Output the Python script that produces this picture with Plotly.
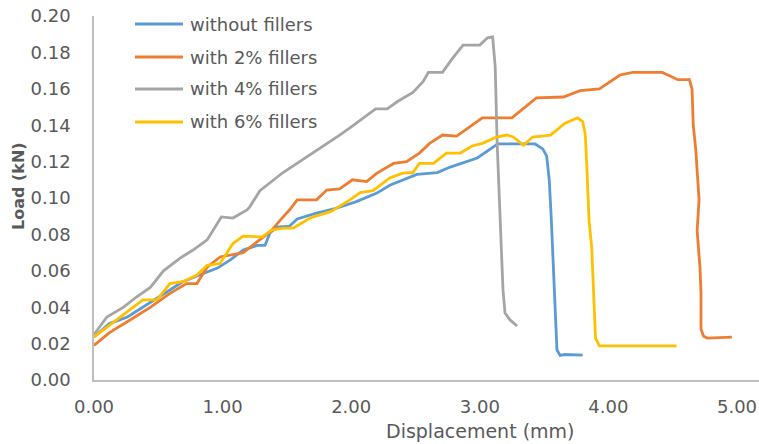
import plotly.graph_objects as go

# Displacement (mm) / Load (kN)
x_without = [0.00, 0.12, 0.26, 0.38, 0.54, 0.69, 0.82, 0.96, 1.06, 1.16, 1.27, 1.33, 1.37, 1.42, 1.52, 1.58,
             1.73, 1.89, 2.04, 2.20, 2.30, 2.40, 2.51, 2.67, 2.77, 2.98, 3.08, 3.14, 3.43, 3.49, 3.52, 3.54,
             3.555, 3.57, 3.59, 3.60, 3.625, 3.66, 3.80]
y_without = [0.0236, 0.031, 0.0346, 0.040, 0.0476, 0.054, 0.0577, 0.0615, 0.066, 0.0714, 0.074, 0.074, 0.081,
             0.084, 0.0845, 0.0885, 0.0917, 0.0945, 0.098, 0.1027, 0.107, 0.110, 0.113, 0.114, 0.117, 0.122,
             0.127, 0.1297, 0.1297, 0.127, 0.123, 0.110, 0.090, 0.062, 0.035, 0.0165, 0.0135, 0.014, 0.0137]

x_2pct = [0.00, 0.12, 0.28, 0.44, 0.59, 0.72, 0.80, 0.88, 0.98, 1.06, 1.16, 1.27, 1.37, 1.45, 1.52, 1.58, 1.73,
          1.81, 1.91, 2.01, 2.12, 2.20, 2.33, 2.43, 2.53, 2.61, 2.71, 2.82, 3.02, 3.25, 3.37, 3.44, 3.65, 3.78,
          3.93, 4.09, 4.19, 4.42, 4.54, 4.63, 4.65, 4.66, 4.68, 4.705, 4.69, 4.712, 4.72, 4.72, 4.74, 4.77, 4.96]
y_2pct = [0.019, 0.026, 0.033, 0.040, 0.0476, 0.053, 0.053, 0.062, 0.0676, 0.0687, 0.070, 0.076, 0.0813, 0.088,
          0.0934, 0.099, 0.099, 0.1044, 0.105, 0.110, 0.109, 0.1137, 0.119, 0.120, 0.1247, 0.130, 0.1346, 0.134,
          0.144, 0.144, 0.151, 0.155, 0.1555, 0.159, 0.160, 0.1676, 0.169, 0.169, 0.165, 0.165, 0.160, 0.140,
          0.126, 0.099, 0.082, 0.062, 0.048, 0.028, 0.024, 0.023, 0.0236]

x_4pct = [0.00, 0.10, 0.23, 0.33, 0.44, 0.54, 0.67, 0.77, 0.88, 0.94, 0.99, 1.08, 1.19, 1.21, 1.29, 1.47, 1.60,
          1.73, 1.89, 1.99, 2.12, 2.19, 2.28, 2.36, 2.48, 2.56, 2.60, 2.71, 2.78, 2.87, 3.00, 3.06, 3.10, 3.12,
          3.135, 3.157, 3.18, 3.196, 3.235, 3.29]
y_4pct = [0.025, 0.0346, 0.040, 0.0456, 0.051, 0.060, 0.067, 0.0714, 0.077, 0.0835, 0.0896, 0.089, 0.0934,
          0.095, 0.104, 0.114, 0.120, 0.126, 0.1336, 0.1385, 0.1456, 0.149, 0.149, 0.153, 0.158, 0.164, 0.169,
          0.169, 0.176, 0.184, 0.184, 0.188, 0.1885, 0.172, 0.130, 0.088, 0.050, 0.0368, 0.033, 0.0297]

x_6pct = [0.00, 0.12, 0.26, 0.38, 0.49, 0.59, 0.69, 0.80, 0.88, 0.98, 1.08, 1.16, 1.31, 1.38, 1.47, 1.55, 1.68,
          1.84, 1.99, 2.07, 2.17, 2.30, 2.40, 2.48, 2.53, 2.64, 2.74, 2.85, 2.94, 3.02, 3.13, 3.21, 3.26, 3.34,
          3.41, 3.55, 3.66, 3.76, 3.80, 3.82, 3.83, 3.85, 3.87, 3.89, 3.90, 3.93, 4.53]
y_6pct = [0.0236, 0.030, 0.0374, 0.044, 0.044, 0.053, 0.054, 0.0577, 0.063, 0.064, 0.075, 0.079, 0.0786, 0.0824,
          0.0835, 0.0835, 0.089, 0.0925, 0.099, 0.103, 0.104, 0.111, 0.1137, 0.114, 0.119, 0.119, 0.1247, 0.1247,
          0.1286, 0.130, 0.1335, 0.1346, 0.1335, 0.129, 0.1335, 0.1346, 0.141, 0.144, 0.142, 0.135, 0.121, 0.087,
          0.073, 0.044, 0.023, 0.0187, 0.0187]

series_names = ["without fillers", "with 2% fillers", "with 4% fillers", "with 6% fillers"]
series_x = [x_without, x_2pct, x_4pct, x_6pct]
series_y = [y_without, y_2pct, y_4pct, y_6pct]
colors = ["#5B9BD5", "#ED7D31", "#A5A5A5", "#FFC000"]

x_ticks = [0, 1, 2, 3, 4, 5]
y_ticks = [0.00, 0.02, 0.04, 0.06, 0.08, 0.10, 0.12, 0.14, 0.16, 0.18, 0.20]

W, H = 759, 444
L, R, T, B = 94, 0, 16, 64
pw, ph = W - L - R, H - T - B

def px(xp):
    return (xp - L) / pw

def py(yp):
    return (H - B - yp) / ph

fig = go.Figure()
for name, xs, ys, c in zip(series_names, series_x, series_y, colors):
    fig.add_trace(go.Scatter(x=xs, y=ys, mode="lines", name=name, showlegend=False,
                             line=dict(color=c, width=2.8)))

text_col = "#595959"
font_fam = "DejaVu Sans"

shapes = []
annotations = []
legend_rows = [24, 57, 89, 122]
for name, c, ry in zip(series_names, colors, legend_rows):
    shapes.append(dict(type="line", xref="paper", yref="paper", x0=px(135), x1=px(183), y0=py(ry), y1=py(ry),
                       line=dict(color=c, width=3)))
    annotations.append(dict(text=name, xref="paper", yref="paper", x=px(188), y=py(ry), xanchor="left",
                            yanchor="middle", showarrow=False, font=dict(family=font_fam, size=18, color=text_col)))

annotations.append(dict(text="Displacement (mm)", xref="paper", yref="paper", x=px(480), y=py(431),
                        xanchor="center", yanchor="middle", showarrow=False,
                        font=dict(family=font_fam, size=19, color=text_col)))
annotations.append(dict(text="<b>Load (kN)</b>", xref="paper", yref="paper", x=px(18), y=py(186),
                        xanchor="center", yanchor="middle", textangle=-90, showarrow=False,
                        font=dict(family=font_fam, size=16, color=text_col)))

fig.update_layout(
    width=W, height=H,
    margin=dict(l=L, r=R, t=T, b=B, pad=0),
    paper_bgcolor="white", plot_bgcolor="white",
    shapes=shapes, annotations=annotations,
    xaxis=dict(range=[0, pw / 128.6], tickvals=x_ticks, ticktext=["%.2f" % v for v in x_ticks],
               showgrid=False, zeroline=False, showline=True, linecolor="#BFBFBF", linewidth=1.5,
               automargin=False,
               ticks="", ticklabelstandoff=10, tickfont=dict(family=font_fam, size=18, color=text_col)),
    yaxis=dict(range=[0, 0.2], tickvals=y_ticks, ticktext=["%.2f" % v for v in y_ticks],
               showgrid=False, zeroline=False, showline=True, linecolor="#BFBFBF", linewidth=1.5,
               automargin=False,
               ticks="", ticklabelstandoff=18, tickfont=dict(family=font_fam, size=18, color=text_col)),
)

fig.write_html("out.html", config={"displayModeBar": False},
               post_script="document.body.style.margin='0';document.body.style.overflow='hidden';")
